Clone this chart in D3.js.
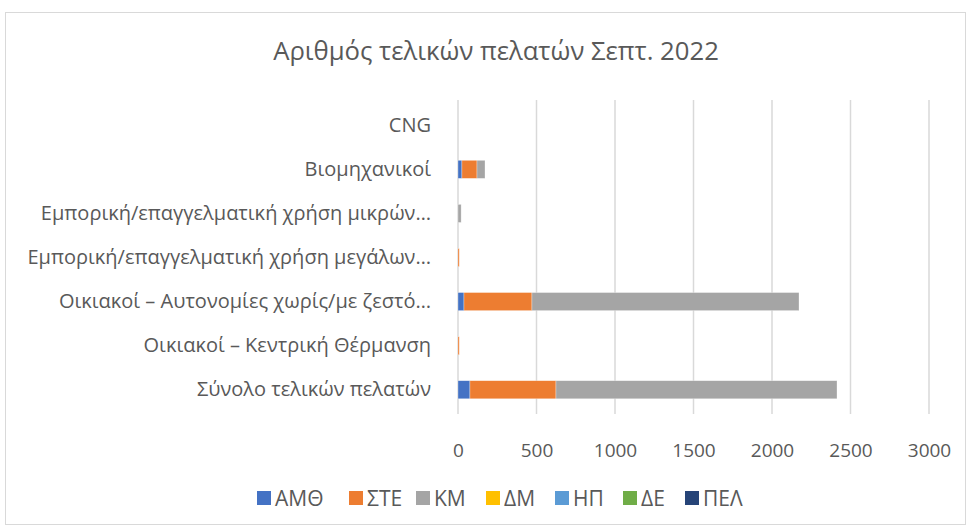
<!DOCTYPE html>
<html><head><meta charset="utf-8">
<script src="https://cdn.jsdelivr.net/npm/d3@7"></script>
<style>body{margin:0;background:#fff;}svg{display:block;font-family:"Open Sans",sans-serif;}</style>
</head><body>
<svg id="c" width="969" height="528"></svg>
<script>
const categories = ["CNG","Βιομηχανικοί","Εμπορική/επαγγελματική χρήση μικρών…","Εμπορική/επαγγελματική χρήση μεγάλων…","Οικιακοί – Αυτονομίες χωρίς/με ζεστό…","Οικιακοί – Κεντρική Θέρμανση","Σύνολο τελικών πελατών"];
const seriesNames = ["ΑΜΘ","ΣΤΕ","ΚΜ","ΔΜ","ΗΠ","ΔΕ","ΠΕΛ"];
const colors = ["#4472C4","#ED7D31","#A5A5A5","#FFC000","#5B9BD5","#70AD47","#264478"];
const AMTH = [0,25,0,0,38,0,76];
const STE  = [0,96,0,8,433,8,548];
const KM   = [0,51,20,0,1701,0,1790];
const DM   = [0,0,0,0,0,0,0];
const HP   = [0,0,0,0,0,0,0];
const DE   = [0,0,0,0,0,0,0];
const PEL  = [0,0,0,0,0,0,0];
const xTicks = [0,500,1000,1500,2000,2500,3000];
const values = [AMTH,STE,KM,DM,HP,DE,PEL];

const svg = d3.select("#c");
svg.append("rect").attr("x",5.5).attr("y",12.5).attr("width",960).attr("height",512).attr("fill","#fff").attr("stroke","#d9d9d9");

svg.append("text").attr("x",496).attr("y",60).attr("text-anchor","middle").attr("font-size",25.7).attr("fill","#595959").text("Αριθμός τελικών πελατών Σεπτ. 2022");

const x = d3.scaleLinear().domain([0,3000]).range([458,929]);
const y = d3.scaleBand().domain(categories).range([103,412]).paddingInner(0.59).paddingOuter(0.3);

// gridlines
svg.append("g").selectAll("line").data(xTicks).join("line")
  .attr("x1",d=>x(d)).attr("x2",d=>x(d)).attr("y1",100).attr("y2",414)
  .attr("stroke","#d9d9d9").attr("stroke-width",1.5);

const rows = categories.map((c,i)=>{const o={cat:c}; seriesNames.forEach((s,j)=>o[s]=values[j][i]); return o;});
const stack = d3.stack().keys(seriesNames)(rows);
svg.append("g").selectAll("g").data(stack).join("g").attr("fill",(d,i)=>colors[i])
  .selectAll("rect").data(d=>d.filter(e=>e[1]-e[0]>0)).join("rect")
  .attr("x",d=>x(d[0])).attr("width",d=>x(d[1])-x(d[0]))
  .attr("y",d=>y(d.data.cat)).attr("height",y.bandwidth())
  .attr("stroke","#fff").attr("stroke-opacity",0.5).attr("stroke-width",0.6);

// x axis labels
const xa = d3.axisBottom(x).tickValues(xTicks).tickFormat(d3.format("d")).tickSize(0).tickPadding(0);
const gx = svg.append("g").attr("transform","translate(0,457)").call(xa);
gx.select(".domain").remove();
gx.selectAll("text").attr("font-size",19).attr("fill","#595959").attr("font-family","Open Sans").attr("y",0).attr("dy",0);

// y axis labels
const ya = d3.axisLeft(y).tickSize(0).tickPadding(0);
const gy = svg.append("g").attr("transform","translate(431,0)").call(ya);
gy.select(".domain").remove();
gy.selectAll("text").attr("font-size",20).attr("fill","#595959").attr("font-family","Open Sans");

// legend
const lx = [257,349,416,486,555,623,685];
const lg = svg.append("g").selectAll("g").data(seriesNames).join("g").attr("transform",(d,i)=>`translate(${lx[i]},498)`);
lg.append("rect").attr("x",0).attr("y",-7).attr("width",14).attr("height",14).attr("fill",(d,i)=>colors[i]);
lg.append("text").attr("x",18).attr("y",0).attr("dy","0.36em").attr("font-size",21).attr("fill","#595959").text(d=>d);
</script>
</body></html>
